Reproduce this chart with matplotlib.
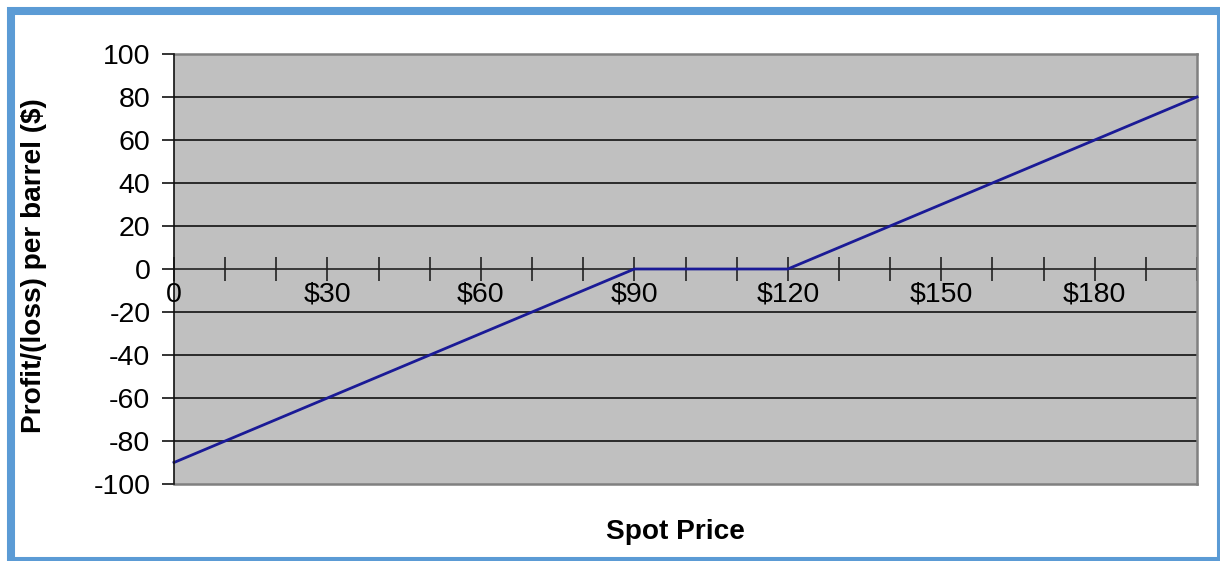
import matplotlib.pyplot as plt
from matplotlib.patches import Rectangle
from matplotlib.ticker import MultipleLocator

plt.rcParams['font.family'] = ['Liberation Sans', 'DejaVu Sans']

# payoff per barrel at each spot price breakpoint
spot = [0, 90, 120, 200]
profit = [-90, 0, 0, 80]

x_label_pos = [0, 30, 60, 90, 120, 150, 180]
x_label_txt = ['0', '$30', '$60', '$90', '$120', '$150', '$180']
y_ticks = list(range(-100, 101, 20))

W, H = 1220, 561
fig = plt.figure(figsize=(W / 100, H / 100), dpi=100)
ax = fig.add_axes([174 / W, 1 - 484 / H, (1197 - 174) / W, (484 - 54) / H])

ax.set_facecolor('#c0c0c0')
ax.set_xlim(0, 200)
ax.set_ylim(-100, 100)

# horizontal gridlines
for y in y_ticks:
    if y not in (0, 100, -100):
        ax.axhline(y, color='#111111', lw=1.2, zorder=1)

ax.plot(spot, profit, color='#1a1a96', lw=2, zorder=3, clip_on=False)

for s in ['top', 'right']:
    ax.spines[s].set_color('#808080')
    ax.spines[s].set_linewidth(1.8)
ax.spines['left'].set_color('#111111')
ax.spines['left'].set_linewidth(1.2)
ax.spines['left'].set_zorder(4)
ax.spines['bottom'].set_position(('data', 0))
ax.spines['bottom'].set_color('#222222')
ax.spines['bottom'].set_linewidth(1.2)
ax.spines['bottom'].set_zorder(2)
# lower edge of the plot area
ax.axhline(-100, color='#808080', lw=1.8, zorder=2, clip_on=False)

ax.set_yticks(y_ticks)
ax.set_yticklabels([str(v) for v in y_ticks])
ax.tick_params(axis='y', direction='out', length=9, width=1.2, color='#111111',
               labelsize=20.5, pad=8)

ax.xaxis.set_major_locator(MultipleLocator(10))
ax.xaxis.set_major_formatter(plt.NullFormatter())
ax.tick_params(axis='x', direction='inout', length=17, width=1.2, color='#222222')

# dollar labels under the zero line
for xv, txt in zip(x_label_pos, x_label_txt):
    ax.text(xv, -12, txt, ha='center', va='center', fontsize=20.5, zorder=5)

fig.text(34 / W, 1 - 266 / H, 'Profit/(loss) per barrel ($)', rotation=90,
         ha='center', va='center', fontsize=20.2, fontweight='bold')
fig.text(675 / W, 1 - 532 / H, 'Spot Price', ha='center', va='center',
         fontsize=20.2, fontweight='bold')

# blue frame round the whole chart
fig.patches.append(Rectangle((11 / W, 0), (1221 - 11) / W, 1 - 11 / H,
                             transform=fig.transFigure, fill=False,
                             edgecolor='#5b9bd5', lw=5.8, clip_on=False))

fig.savefig('out.png', dpi=100)
